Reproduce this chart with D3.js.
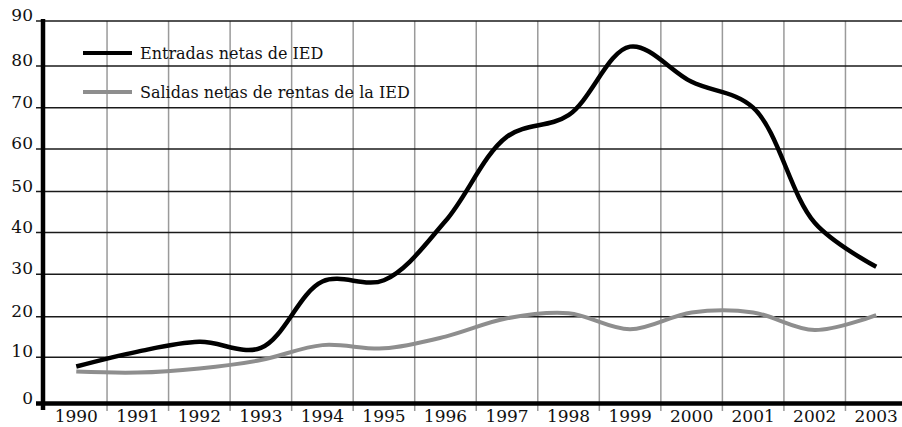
<!DOCTYPE html>
<html>
<head>
<meta charset="utf-8">
<script src="https://cdn.jsdelivr.net/npm/d3@7"></script>
<style>
  html, body { margin: 0; padding: 0; background: #fff; }
  svg { display: block; }
  text { font-family: "DejaVu Serif", "Liberation Serif", serif; fill: #111; }
</style>
</head>
<body>
<div id="chart"></div>
<script>
// años del eje x
const years = ["1990", "1991", "1992", "1993", "1994", "1995", "1996",
               "1997", "1998", "1999", "2000", "2001", "2002", "2003"];

// Entradas netas de IED
const entradas = [8, 11.4, 13.8, 12.3, 28.3, 28.6, 42.8, 63, 68.2, 84.3, 76.2, 70, 42.4, 31.8];

// Salidas netas de rentas de la IED
const salidas = [6.9, 6.7, 7.6, 9.4, 13, 12.2, 15.1, 19.6, 20.8, 16.9, 21, 21, 16.7, 20.4];

const yTicks = [0, 10, 20, 30, 40, 50, 60, 70, 80, 90];

const seriesNames = ["Entradas netas de IED", "Salidas netas de rentas de la IED"];

const width = 902, height = 427;

const svg = d3.select("#chart").append("svg")
    .attr("width", width)
    .attr("height", height);

const x = d3.scaleBand()
    .domain(years)
    .range([45.5, 907])
    .paddingInner(0)
    .paddingOuter(0);

// el gráfico original no tiene espaciado uniforme en y
const y = d3.scaleLinear()
    .domain(yTicks)
    .range([403.5, 357.3, 316.7, 274.3, 232.5, 191.5, 149, 107.7, 66, 21]);

const cx = d => x(d) + x.bandwidth() / 2;

// rejilla vertical
svg.append("g")
    .selectAll("line")
    .data(years.slice(1))
    .enter().append("line")
    .attr("x1", d => x(d))
    .attr("x2", d => x(d))
    .attr("y1", y(90))
    .attr("y2", 411)
    .attr("stroke", "#9a9a9a")
    .attr("stroke-width", 1.5);

// rejilla horizontal
svg.append("g")
    .selectAll("line")
    .data(yTicks.slice(1))
    .enter().append("line")
    .attr("x1", 36)
    .attr("x2", width)
    .attr("y1", d => y(d))
    .attr("y2", d => y(d))
    .attr("stroke", "#1a1a1a")
    .attr("stroke-width", 1.5);

// ejes
svg.append("line")
    .attr("x1", 43).attr("x2", 43)
    .attr("y1", y(90) - 2).attr("y2", 410)
    .attr("stroke", "#000").attr("stroke-width", 4.5);

svg.append("line")
    .attr("x1", 36).attr("x2", width)
    .attr("y1", y(0)).attr("y2", y(0))
    .attr("stroke", "#000").attr("stroke-width", 4.5);

svg.append("g")
    .selectAll("text")
    .data(yTicks)
    .enter().append("text")
    .attr("x", 33)
    .attr("y", d => y(d))
    .attr("text-anchor", "end")
    .attr("font-size", "17px")
    .text(d => d);

svg.append("g")
    .selectAll("text")
    .data(years)
    .enter().append("text")
    .attr("x", d => cx(d))
    .attr("y", 422)
    .attr("text-anchor", "middle")
    .attr("font-size", "17px")
    .text(d => d);

// series
const line = d3.line()
    .x((d, i) => cx(years[i]))
    .y(d => y(d))
    .curve(d3.curveCatmullRom.alpha(0.5));

svg.append("path")
    .datum(salidas)
    .attr("d", line)
    .attr("fill", "none")
    .attr("stroke", "#8e8e8e")
    .attr("stroke-width", 4);

svg.append("path")
    .datum(entradas)
    .attr("d", line)
    .attr("fill", "none")
    .attr("stroke", "#000")
    .attr("stroke-width", 4.5);

// leyenda
const legend = svg.append("g");
const legendColors = ["#000", "#8e8e8e"];
const legendY = [53, 92];

seriesNames.forEach((name, i) => {
    legend.append("line")
        .attr("x1", 83).attr("x2", 132)
        .attr("y1", legendY[i]).attr("y2", legendY[i])
        .attr("stroke", legendColors[i])
        .attr("stroke-width", 4);
    legend.append("text")
        .attr("x", 140)
        .attr("y", legendY[i] + 6)
        .attr("font-size", "16px")
        .text(name);
});
</script>
</body>
</html>
